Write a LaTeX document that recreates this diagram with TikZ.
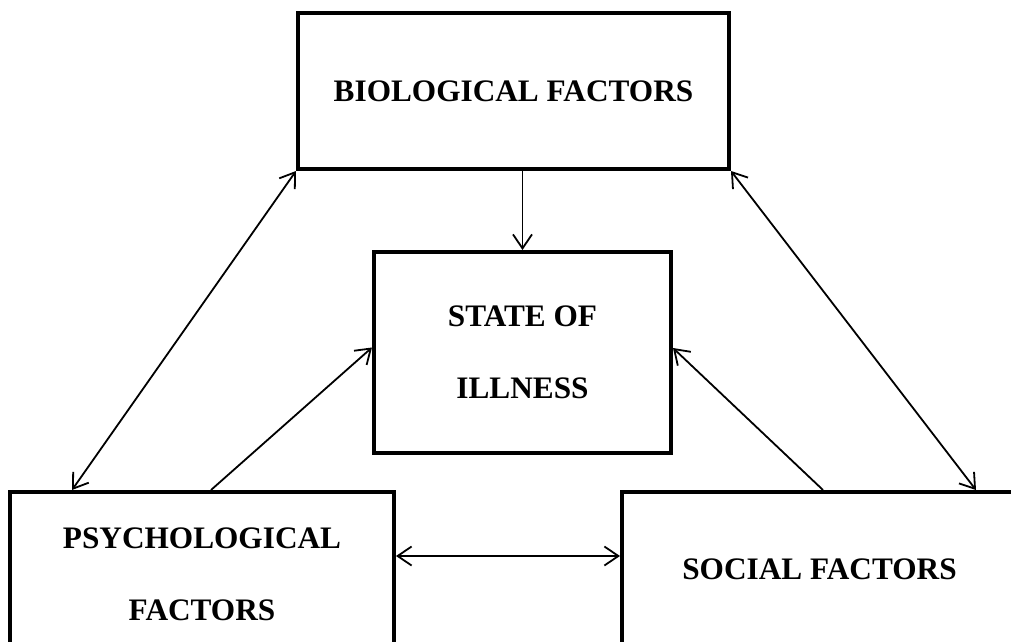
\documentclass[tikz,border=0pt]{standalone}
\usepackage{fontspec}
\setmainfont{Liberation Serif}
\usepackage{tikz}
\usetikzlibrary{arrows.meta}
\tikzset{>={Straight Barb[length=0.28cm,width=0.38cm]}}
\tikzset{factor/.style={draw, line width=0.08cm, align=center, inner sep=0pt,
  font=\fontsize{17.8}{41.3}\selectfont\bfseries}}

\begin{document}
\begin{tikzpicture}
\clip (0,0) rectangle (20.22,-12.84);
\node[factor, minimum width=8.62cm, minimum height=3.12cm] (bio) at (10.27,-1.82) {BIOLOGICAL FACTORS};
\node[factor, minimum width=5.94cm, minimum height=4.02cm] (state) at (10.45,-7.05) {STATE OF\\ILLNESS};
\node[factor, minimum width=7.68cm, minimum height=3.3cm] (psych) at (4.04,-11.49) {PSYCHOLOGICAL\\FACTORS};
\node[factor, minimum width=7.9cm, minimum height=3.08cm] (social) at (16.39,-11.38) {SOCIAL FACTORS};
\path[->, line width=0.036cm]
(bio.south -| state.north) 
edge (state.north)
([xshift=4.06cm]psych.north west) 
edge ([yshift=0.1cm]state.west)
([xshift=4.06cm]social.north west) 
edge ([yshift=0.09cm]state.east)
;
\path[<->, line width=0.036cm]
(bio.south west) 
edge ([xshift=1.28cm]psych.north west)
(bio.south east) 
edge ([xshift=7.12cm]social.north west)
([yshift=0.37cm]psych.east) 
edge ([yshift=0.26cm]social.west)
;
\end{tikzpicture}
\end{document}
